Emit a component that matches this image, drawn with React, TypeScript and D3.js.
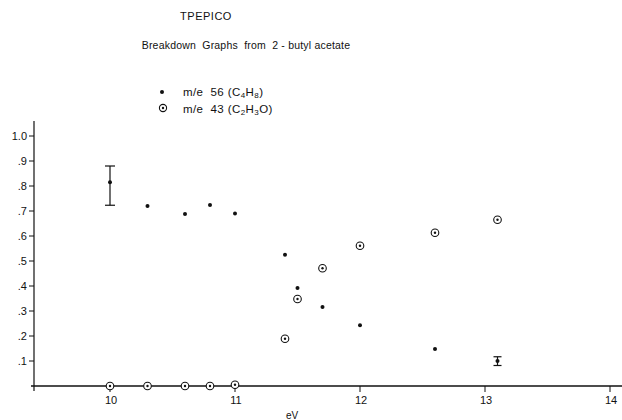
import React from "react";
import * as d3 from "d3";

// m/e 56 (C4H8) fractions
const eV56 = [10.0, 10.3, 10.6, 10.8, 11.0, 11.4, 11.5, 11.7, 12.0, 12.6, 13.1];
const frac56 = [0.815, 0.72, 0.688, 0.724, 0.69, 0.525, 0.392, 0.316, 0.243, 0.148, 0.1];

// m/e 43 (C2H3O) fractions
const eV43 = [10.0, 10.3, 10.6, 10.8, 11.0, 11.4, 11.5, 11.7, 12.0, 12.6, 13.1];
const frac43 = [0, 0, 0, 0, 0.005, 0.189, 0.348, 0.471, 0.561, 0.613, 0.665];

// error bars (energy, low, high)
const errEV = [10.0, 13.1];
const errLow = [0.723, 0.082];
const errHigh = [0.88, 0.117];

const xTicks = [10, 11, 12, 13, 14];
const yTicks = [0.1, 0.2, 0.3, 0.4, 0.5, 0.6, 0.7, 0.8, 0.9, 1.0];
const yTickLabels = [".1", ".2", ".3", ".4", ".5", ".6", ".7", ".8", ".9", "1.0"];

const FONT = "'Liberation Sans', Arial, sans-serif";

export default function App() {
  const W = 622;
  const H = 420;
  const x = d3.scaleLinear().domain([10, 14]).range([110, 610]);
  const y = d3.scaleLinear().domain([0, 1]).range([386, 136]);
  const axisX = 34;

  return (
    <svg
      width={W}
      height={H}
      style={{ position: "absolute", left: 0, top: 0, background: "#fff" }}
      fontFamily={FONT}
      fill="#111"
    >
      <text x={206} y={20} fontSize={11} textAnchor="middle" letterSpacing={0.5}>
        TPEPICO
      </text>
      <text x={246} y={49} fontSize={10.5} textAnchor="middle" letterSpacing={0.2} xmlSpace="preserve">
        {"Breakdown  Graphs  from  2 - butyl acetate"}
      </text>

      {/* legend */}
      <circle cx={162} cy={92} r={2} fill="#111" />
      <text x={183} y={96} fontSize={11.5} letterSpacing={0.4} xmlSpace="preserve">
        {"m/e  56 (C"}<tspan fontSize={8} dy={2}>4</tspan>
        <tspan dy={-2}>H</tspan>
        <tspan fontSize={8} dy={2}>8</tspan>
        <tspan dy={-2}>)</tspan>
      </text>
      <circle cx={163} cy={108} r={3.6} fill="none" stroke="#111" strokeWidth={1.1} />
      <circle cx={163} cy={108} r={1.2} fill="#111" />
      <text x={183} y={113} fontSize={11.5} letterSpacing={0.4} xmlSpace="preserve">
        {"m/e  43 (C"}<tspan fontSize={8} dy={2}>2</tspan>
        <tspan dy={-2}>H</tspan>
        <tspan fontSize={8} dy={2}>3</tspan>
        <tspan dy={-2}>O)</tspan>
      </text>

      {/* axes */}
      <line x1={axisX} x2={axisX} y1={121} y2={391} stroke="#111" strokeWidth={1.2} />
      <line x1={31} x2={622} y1={y(0)} y2={y(0)} stroke="#111" strokeWidth={1.4} />
      {yTicks.map((t, i) => (
        <g key={"y" + i}>
          <line x1={axisX - 5} x2={axisX} y1={y(t)} y2={y(t)} stroke="#111" strokeWidth={1} />
          <text x={27} y={y(t) + 4} fontSize={11} textAnchor="end">
            {yTickLabels[i]}
          </text>
        </g>
      ))}
      {xTicks.map((t) => (
        <g key={"x" + t}>
          <line x1={x(t)} x2={x(t)} y1={y(0)} y2={y(0) + 6} stroke="#111" strokeWidth={1} />
          <text x={x(t) + 1} y={y(0) + 18} fontSize={11} textAnchor="middle">
            {t}
          </text>
        </g>
      ))}
      <text x={292} y={419} fontSize={10} textAnchor="middle">
        eV
      </text>

      {/* error bars */}
      {errEV.map((e, i) => {
        const cx = x(e);
        const hw = i === 0 ? 5 : 4;
        return (
          <g key={"e" + i} stroke="#111" strokeWidth={1.2}>
            <line x1={cx} x2={cx} y1={y(errLow[i])} y2={y(errHigh[i])} />
            <line x1={cx - hw} x2={cx + hw} y1={y(errLow[i])} y2={y(errLow[i])} />
            <line x1={cx - hw} x2={cx + hw} y1={y(errHigh[i])} y2={y(errHigh[i])} />
          </g>
        );
      })}

      {/* m/e 56 points */}
      {eV56.map((e, i) => (
        <circle key={"a" + i} cx={x(e)} cy={y(frac56[i])} r={2} fill="#111" />
      ))}

      {/* m/e 43 points */}
      {eV43.map((e, i) => (
        <g key={"b" + i}>
          <circle cx={x(e)} cy={y(frac43[i])} r={3.8} fill="#fff" stroke="#111" strokeWidth={1.1} />
          <circle cx={x(e)} cy={y(frac43[i])} r={1.2} fill="#111" />
        </g>
      ))}
    </svg>
  );
}
